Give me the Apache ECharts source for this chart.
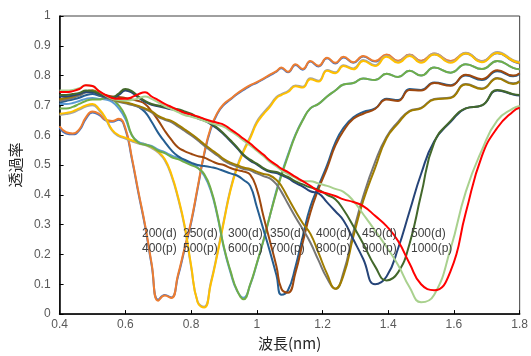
<!DOCTYPE html>
<html>
<head>
<meta charset="utf-8">
<script src="https://cdn.jsdelivr.net/npm/echarts@6/dist/echarts.min.js"></script>
<style>
  html, body { margin: 0; padding: 0; background: #fff; }
  #main { width: 531px; height: 356px; }
</style>
</head>
<body>
<div id="main"></div>
<script>
// 波長 (shared x for every curve)
var wavelength = [0.40,0.42,0.44,0.46,0.48,0.50,0.52,0.54,0.56,0.58,
  0.60,0.62,0.64,0.66,0.68,0.70,0.72,0.74,0.76,0.78,
  0.80,0.82,0.84,0.86,0.88,0.90,0.92,0.94,0.96,0.98,
  1.00,1.02,1.04,1.06,1.075,1.095,1.118,1.14,1.163,1.188,
  1.214,1.239,1.264,1.294,1.324,1.36,1.395,1.43,1.465,1.50,
  1.54,1.59,1.636,1.685,1.732,1.78,1.80]

// 透過率
var t200d = [0.625,0.606,0.603,0.616,0.655,0.676,0.668,0.650,0.645,0.652,
  0.620,0.520,0.405,0.295,0.165,0.048,0.064,0.056,0.125,0.215,
  0.305,0.420,0.535,0.620,0.672,0.702,0.720,0.738,0.752,0.766,
  0.776,0.788,0.801,0.813,0.825,0.811,0.836,0.820,0.847,0.831,
  0.858,0.841,0.861,0.843,0.864,0.847,0.869,0.848,0.869,0.848,
  0.872,0.847,0.874,0.847,0.875,0.848,0.841]
var t200p = [0.630,0.610,0.606,0.620,0.660,0.680,0.672,0.652,0.648,0.655,
  0.625,0.525,0.410,0.300,0.170,0.045,0.062,0.054,0.130,0.220,
  0.310,0.425,0.540,0.625,0.675,0.705,0.722,0.740,0.755,0.768,
  0.778,0.790,0.803,0.815,0.827,0.813,0.838,0.822,0.849,0.833,
  0.860,0.843,0.863,0.845,0.866,0.849,0.871,0.850,0.871,0.850,
  0.874,0.849,0.876,0.849,0.877,0.850,0.843]
var t250d = [0.668,0.671,0.676,0.686,0.696,0.701,0.684,0.655,0.615,0.597,
  0.589,0.580,0.572,0.567,0.557,0.542,0.516,0.465,0.390,0.295,
  0.160,0.042,0.025,0.105,0.205,0.315,0.420,0.495,0.550,0.595,
  0.645,0.675,0.700,0.728,0.738,0.748,0.767,0.763,0.791,0.783,
  0.819,0.811,0.835,0.824,0.852,0.835,0.866,0.846,0.869,0.846,
  0.874,0.846,0.877,0.848,0.879,0.852,0.846]
var t250p = [0.672,0.675,0.680,0.690,0.700,0.705,0.688,0.658,0.618,0.600,
  0.592,0.583,0.575,0.570,0.560,0.545,0.520,0.470,0.395,0.300,
  0.165,0.040,0.022,0.100,0.200,0.310,0.415,0.490,0.545,0.590,
  0.640,0.670,0.695,0.725,0.735,0.745,0.764,0.760,0.788,0.780,
  0.816,0.808,0.832,0.821,0.849,0.832,0.863,0.843,0.866,0.843,
  0.871,0.843,0.874,0.845,0.876,0.850,0.843]
var t300d = [0.705,0.705,0.708,0.715,0.722,0.725,0.722,0.720,0.712,0.690,
  0.655,0.600,0.578,0.570,0.564,0.552,0.543,0.532,0.524,0.514,
  0.504,0.492,0.465,0.415,0.330,0.222,0.140,0.078,0.055,0.098,
  0.168,0.245,0.330,0.415,0.470,0.535,0.603,0.652,0.690,0.705,
  0.730,0.750,0.770,0.775,0.790,0.785,0.806,0.795,0.816,0.800,
  0.827,0.810,0.838,0.822,0.849,0.826,0.821]
var t300p = [0.690,0.690,0.695,0.705,0.715,0.720,0.720,0.725,0.720,0.700,
  0.665,0.600,0.575,0.568,0.562,0.548,0.540,0.527,0.520,0.510,
  0.500,0.490,0.470,0.420,0.335,0.225,0.145,0.080,0.050,0.100,
  0.170,0.245,0.330,0.410,0.465,0.530,0.600,0.650,0.690,0.705,
  0.730,0.750,0.770,0.775,0.790,0.785,0.806,0.795,0.816,0.800,
  0.827,0.810,0.838,0.822,0.849,0.826,0.821]
var t350d = [0.710,0.715,0.720,0.726,0.734,0.738,0.732,0.726,0.722,0.716,
  0.710,0.703,0.695,0.678,0.645,0.608,0.578,0.550,0.530,0.518,
  0.508,0.500,0.497,0.493,0.488,0.480,0.472,0.465,0.450,0.430,
  0.360,0.285,0.210,0.130,0.065,0.080,0.160,0.260,0.360,0.430,
  0.500,0.575,0.625,0.660,0.678,0.690,0.722,0.718,0.755,0.752,
  0.777,0.768,0.800,0.785,0.815,0.798,0.806]
var t350p = [0.720,0.725,0.730,0.738,0.748,0.750,0.742,0.735,0.730,0.728,
  0.725,0.720,0.715,0.705,0.680,0.650,0.615,0.585,0.560,0.547,
  0.538,0.530,0.525,0.515,0.505,0.500,0.490,0.483,0.478,0.468,
  0.420,0.330,0.245,0.160,0.085,0.072,0.140,0.240,0.340,0.420,
  0.490,0.565,0.615,0.655,0.672,0.688,0.720,0.715,0.752,0.750,
  0.775,0.766,0.803,0.788,0.818,0.800,0.808]
var t400d = [0.715,0.720,0.725,0.733,0.743,0.745,0.736,0.727,0.719,0.712,
  0.707,0.702,0.695,0.687,0.677,0.662,0.652,0.644,0.630,0.615,
  0.600,0.583,0.565,0.548,0.532,0.515,0.503,0.495,0.487,0.482,
  0.472,0.463,0.455,0.435,0.410,0.370,0.325,0.285,0.240,0.180,
  0.120,0.085,0.140,0.275,0.395,0.510,0.595,0.645,0.682,0.692,
  0.722,0.727,0.772,0.757,0.792,0.774,0.782]
var t400p = [0.720,0.725,0.730,0.738,0.748,0.750,0.740,0.730,0.722,0.715,
  0.710,0.705,0.698,0.690,0.680,0.665,0.655,0.648,0.635,0.620,
  0.605,0.588,0.570,0.553,0.537,0.520,0.508,0.500,0.492,0.487,
  0.478,0.470,0.465,0.450,0.430,0.390,0.345,0.305,0.270,0.205,
  0.135,0.085,0.130,0.260,0.380,0.490,0.590,0.640,0.680,0.690,
  0.720,0.725,0.770,0.755,0.790,0.772,0.780]
var t450d = [0.730,0.730,0.733,0.738,0.745,0.744,0.737,0.729,0.725,0.735,
  0.750,0.743,0.726,0.712,0.702,0.697,0.692,0.687,0.684,0.677,
  0.669,0.657,0.649,0.637,0.622,0.602,0.580,0.557,0.532,0.515,
  0.502,0.487,0.477,0.473,0.466,0.456,0.440,0.428,0.412,0.405,
  0.375,0.345,0.314,0.250,0.185,0.100,0.126,0.220,0.345,0.470,
  0.580,0.645,0.690,0.700,0.750,0.737,0.733]
var t450p = [0.735,0.735,0.738,0.742,0.750,0.748,0.740,0.732,0.728,0.740,
  0.755,0.748,0.730,0.715,0.705,0.700,0.695,0.690,0.687,0.680,
  0.672,0.660,0.652,0.640,0.625,0.605,0.583,0.560,0.535,0.518,
  0.505,0.490,0.480,0.477,0.470,0.460,0.445,0.435,0.425,0.417,
  0.400,0.385,0.350,0.295,0.236,0.160,0.113,0.140,0.236,0.400,
  0.575,0.648,0.690,0.700,0.752,0.738,0.735]
var t500d = [0.750,0.750,0.752,0.758,0.768,0.765,0.748,0.733,0.722,0.718,
  0.716,0.718,0.724,0.730,0.722,0.710,0.698,0.688,0.678,0.668,
  0.662,0.656,0.648,0.641,0.635,0.628,0.614,0.599,0.582,0.566,
  0.548,0.530,0.510,0.495,0.482,0.470,0.457,0.446,0.446,0.438,
  0.430,0.420,0.410,0.380,0.335,0.280,0.225,0.165,0.090,0.040,
  0.065,0.220,0.410,0.550,0.650,0.690,0.698]
var t500p = [0.745,0.745,0.748,0.755,0.768,0.765,0.748,0.735,0.725,0.722,
  0.722,0.728,0.738,0.744,0.730,0.718,0.705,0.695,0.685,0.675,
  0.670,0.663,0.655,0.648,0.642,0.635,0.620,0.605,0.588,0.572,
  0.553,0.535,0.515,0.500,0.488,0.476,0.460,0.446,0.430,0.413,
  0.405,0.396,0.385,0.376,0.362,0.330,0.295,0.245,0.170,0.100,
  0.080,0.145,0.340,0.530,0.625,0.680,0.692]

var curves = [t200d,t200p,t250d,t250p,t300d,t300p,t350d,t350p,t400d,t400p,t450d,t450p,t500d,t500p]
var curveNames = ['200d','200p','250d','250p','300d','300p','350d','350p','400d','400p','450d','450p','500d','500p']
var colors = ['#4472C4','#ED7D31','#A5A5A5','#FFC000','#5B9BD5','#70AD47','#255E91','#9E480E',
  '#767676','#A07D00','#264478','#43682B','#A9D18E','#FF0000']

// text inside the plot
var labelTop = ['200(d)','250(d)','300(d)','350(d)','400(d)','450(d)','500(d)']
var labelBottom = ['400(p)','500(p)','600(p)','700(p)','800(p)','900(p)','1000(p)']
var labelLeft = [142,183,228,270,316,362,411]

var chart = echarts.init(document.getElementById('main'))

var series = curves.map(function (ys, k) {
  return {
    name: curveNames[k],
    type: 'line',
    smooth: 0.5,
    showSymbol: false,
    lineStyle: { width: 2, color: colors[k] },
    itemStyle: { color: colors[k] },
    data: wavelength.map(function (x, i) { return [x, ys[i]] })
  }
})

var labelFont = '12px "Liberation Sans", Arial'
var graphic = []
labelTop.forEach(function (t, i) {
  graphic.push({ type: 'text', x: labelLeft[i], y: 234, z: 100,
    style: { text: t, fill: '#404040', font: labelFont, verticalAlign: 'middle', textVerticalAlign: 'middle' } })
  graphic.push({ type: 'text', x: labelLeft[i], y: 249, z: 100,
    style: { text: labelBottom[i], fill: '#404040', font: labelFont, verticalAlign: 'middle', textVerticalAlign: 'middle' } })
})

var option = {
  animation: false,
  backgroundColor: '#fff',
  grid: { left: 57, right: 10, top: 16, bottom: 38, show: true, borderColor: '#404040', borderWidth: 1 },
  xAxis: {
    type: 'value', min: 0.4, max: 1.8, interval: 0.2,
    name: '波長(nm)', nameLocation: 'middle', nameGap: 20,
    nameTextStyle: { fontFamily: 'Noto Sans CJK JP', fontSize: 15, color: '#262626' },
    axisLine: { show: true, onZero: false, lineStyle: { color: '#000', width: 1.5 } },
    axisTick: { show: true, inside: true, length: 4, lineStyle: { color: '#000' } },
    axisLabel: { margin: 5, color: '#595959', fontSize: 12, fontFamily: 'Liberation Sans' },
    splitLine: { show: false }
  },
  yAxis: {
    type: 'value', min: 0, max: 1, interval: 0.1,
    name: '透過率', nameLocation: 'middle', nameGap: 31, nameRotate: 90,
    nameTextStyle: { fontFamily: 'Noto Sans CJK JP', fontSize: 15, color: '#262626' },
    axisLine: { show: true, onZero: false, lineStyle: { color: '#000', width: 1.5 } },
    axisTick: { show: true, inside: true, length: 4, lineStyle: { color: '#000' } },
    axisLabel: { margin: 9, color: '#595959', fontSize: 12, fontFamily: 'Liberation Sans' },
    splitLine: { show: false }
  },
  series: series,
  graphic: graphic
}
chart.setOption(option)
</script>
</body>
</html>
